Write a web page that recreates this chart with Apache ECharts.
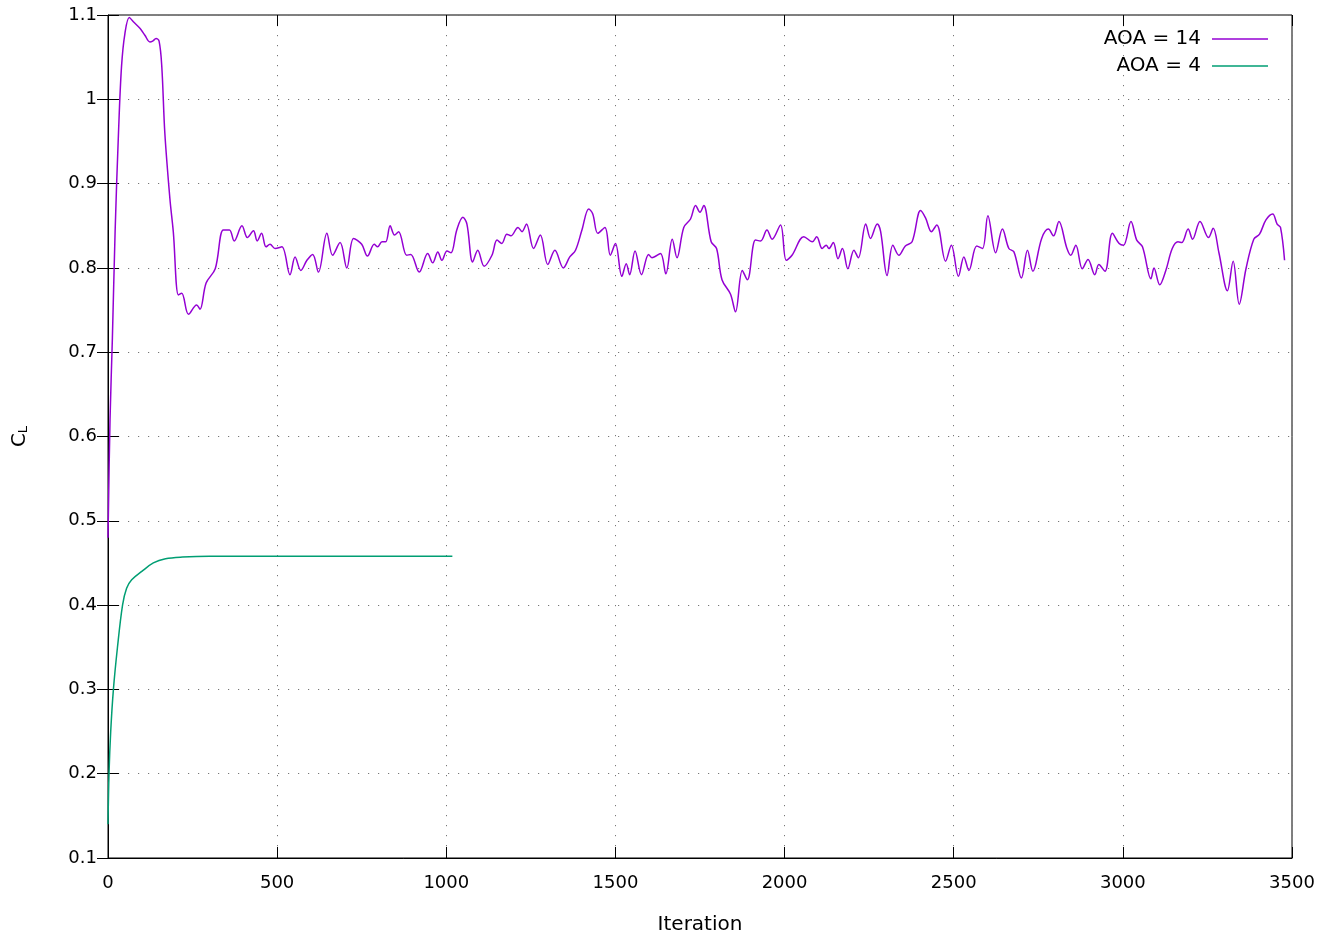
<!DOCTYPE html>
<html>
<head>
<meta charset="utf-8">
<script src="https://cdn.jsdelivr.net/npm/echarts@6/dist/echarts.min.js"></script>
<style>html,body{margin:0;padding:0;background:#fff;overflow:hidden}#c{width:1322px;height:940px}</style>
</head>
<body>
<div id="c"></div>
<script>
const xTicks = [0, 500, 1000, 1500, 2000, 2500, 3000, 3500];
const yTicks = [0.1, 0.2, 0.3, 0.4, 0.5, 0.6, 0.7, 0.8, 0.9, 1, 1.1];

const aoa14Iter = [0,6,13,21,31,40,50,63,75,95,109,124,132,142,151,159,168,183,193,208,218,238,262,272,290,317,341,359,373,396,412,430,441,454,467,479,494,514,538,553,570,588,605,622,647,664,686,706,726,750,767,787,797,810,821,834,847,859,883,895,920,945,960,975,987,1002,1014,1031,1049,1061,1078,1093,1112,1135,1150,1164,1179,1191,1212,1224,1237,1258,1278,1300,1321,1346,1365,1382,1401,1421,1433,1448,1469,1485,1500,1519,1532,1542,1558,1577,1598,1608,1633,1649,1668,1682,1702,1722,1737,1750,1761,1783,1799,1815,1840,1855,1875,1890,1914,1929,1948,1963,1988,2005,2022,2057,2082,2095,2111,2123,2131,2144,2158,2171,2187,2205,2218,2240,2254,2274,2284,2303,2320,2338,2357,2377,2402,2417,2434,2450,2476,2493,2514,2530,2545,2568,2585,2601,2624,2644,2663,2678,2700,2718,2734,2760,2780,2795,2811,2834,2846,2861,2880,2897,2917,2929,2947,2969,2989,3002,3024,3041,3058,3083,3092,3109,3127,3146,3163,3174,3193,3206,3228,3253,3267,3284,3309,3326,3344,3364,3387,3404,3423,3443,3456,3466,3478];
const aoa14CL = [0.48,0.62,0.717,0.843,0.96,1.039,1.078,1.097,1.092,1.084,1.076,1.068,1.069,1.072,1.069,1.039,0.96,0.882,0.843,0.768,0.770,0.745,0.756,0.751,0.782,0.799,0.845,0.845,0.832,0.850,0.836,0.844,0.832,0.841,0.825,0.828,0.823,0.825,0.792,0.813,0.797,0.809,0.816,0.795,0.841,0.815,0.830,0.800,0.835,0.828,0.814,0.828,0.825,0.831,0.831,0.850,0.839,0.843,0.815,0.816,0.795,0.817,0.806,0.819,0.809,0.820,0.818,0.845,0.860,0.852,0.807,0.821,0.802,0.815,0.833,0.829,0.840,0.838,0.848,0.843,0.852,0.823,0.839,0.804,0.821,0.800,0.813,0.821,0.845,0.870,0.864,0.841,0.848,0.815,0.829,0.790,0.805,0.792,0.820,0.792,0.816,0.812,0.817,0.793,0.834,0.812,0.848,0.858,0.874,0.866,0.874,0.831,0.823,0.786,0.769,0.748,0.797,0.786,0.833,0.832,0.845,0.834,0.851,0.809,0.815,0.837,0.831,0.837,0.823,0.827,0.823,0.830,0.811,0.823,0.799,0.821,0.812,0.852,0.835,0.852,0.843,0.791,0.827,0.815,0.826,0.831,0.868,0.859,0.843,0.851,0.808,0.827,0.790,0.813,0.797,0.826,0.823,0.862,0.818,0.846,0.823,0.819,0.788,0.821,0.796,0.835,0.846,0.838,0.855,0.824,0.815,0.827,0.799,0.810,0.792,0.804,0.796,0.841,0.829,0.827,0.855,0.833,0.825,0.787,0.800,0.780,0.797,0.823,0.831,0.830,0.846,0.834,0.855,0.836,0.847,0.818,0.773,0.808,0.757,0.799,0.834,0.840,0.857,0.864,0.852,0.848,0.809];

const aoa4Iter = [0,3,8,16,28,43,55,70,100,134,170,220,300,500,1018];
const aoa4CL = [0.14,0.2,0.25,0.3,0.35,0.4,0.42,0.43,0.44,0.45,0.455,0.457,0.458,0.458,0.458];

const FONT = 'DejaVu Sans';
const zip = (a, b) => a.map((v, i) => [v, b[i]]);

const chart = echarts.init(document.getElementById('c'), null, {renderer: 'canvas', width: 1322, height: 940});
const gridLine = {show: true, lineStyle: {color: '#777', width: 1, type: [1.2, 8.8]}};
const tick = {show: true, inside: true, length: 11, lineStyle: {color: '#000', width: 1}};
chart.setOption({
  animation: false,
  backgroundColor: '#fff',
  textStyle: {fontFamily: FONT},
  grid: {left: 108, width: 1184, top: 15, height: 848, show: true, borderColor: '#000', borderWidth: 1, backgroundColor: 'transparent'},
  legend: {
    orient: 'vertical', align: 'right', right: 49, top: 24, itemGap: 7,
    icon: 'rect', itemWidth: 56, itemHeight: 1.5,
    textStyle: {fontFamily: FONT, fontSize: 20, color: '#000', width: 110, align: 'right', lineHeight: 20, padding: [0, 6, 0, 0]},
    data: ['AOA = 14', 'AOA = 4']
  },
  xAxis: [{
    type: 'value', min: xTicks[0], max: xTicks[xTicks.length - 1], interval: 500,
    name: 'Iteration', nameLocation: 'middle', nameGap: 57,
    nameTextStyle: {fontFamily: FONT, fontSize: 20, color: '#000'},
    axisLine: {show: true, lineStyle: {color: '#000', width: 1}},
    axisTick: tick, splitLine: gridLine,
    axisLabel: {fontFamily: FONT, fontSize: 18, color: '#000', margin: 16, formatter: v => String(v)}
  }, {
    type: 'value', position: 'top', min: xTicks[0], max: xTicks[xTicks.length - 1], interval: 500,
    axisLine: {show: false}, axisTick: tick, axisLabel: {show: false}, splitLine: {show: false}
  }],
  yAxis: [{
    type: 'value', min: yTicks[0], max: yTicks[yTicks.length - 1], interval: 0.1,
    name: '{a|C}{b|L}', nameLocation: 'middle', nameGap: 78, nameRotate: 90,
    nameTextStyle: {fontFamily: FONT, color: '#000', rich: {a: {fontFamily: FONT, fontSize: 20, color: '#000'}, b: {fontFamily: FONT, fontSize: 13, color: '#000', verticalAlign: 'bottom', padding: [8, 0, 0, 0]}}},
    axisLine: {show: true, lineStyle: {color: '#000', width: 1}},
    axisTick: tick, splitLine: gridLine,
    axisLabel: {fontFamily: FONT, fontSize: 18, color: '#000', margin: 11, formatter: v => String(+v.toFixed(1))}
  }, {
    type: 'value', position: 'right', min: yTicks[0], max: yTicks[yTicks.length - 1], interval: 0.1,
    axisLine: {show: false}, axisTick: tick, axisLabel: {show: false}, splitLine: {show: false}
  }],
  series: [{
    name: 'AOA = 14', type: 'line', data: zip(aoa14Iter, aoa14CL),
    showSymbol: false, smooth: 0.35, color: '#9400d3',
    lineStyle: {width: 1.5, color: '#9400d3'}
  }, {
    name: 'AOA = 4', type: 'line', data: zip(aoa4Iter, aoa4CL),
    showSymbol: false, smooth: 0.35, color: '#009e73',
    lineStyle: {width: 1.5, color: '#009e73'}
  }]
});
</script>
</body>
</html>
